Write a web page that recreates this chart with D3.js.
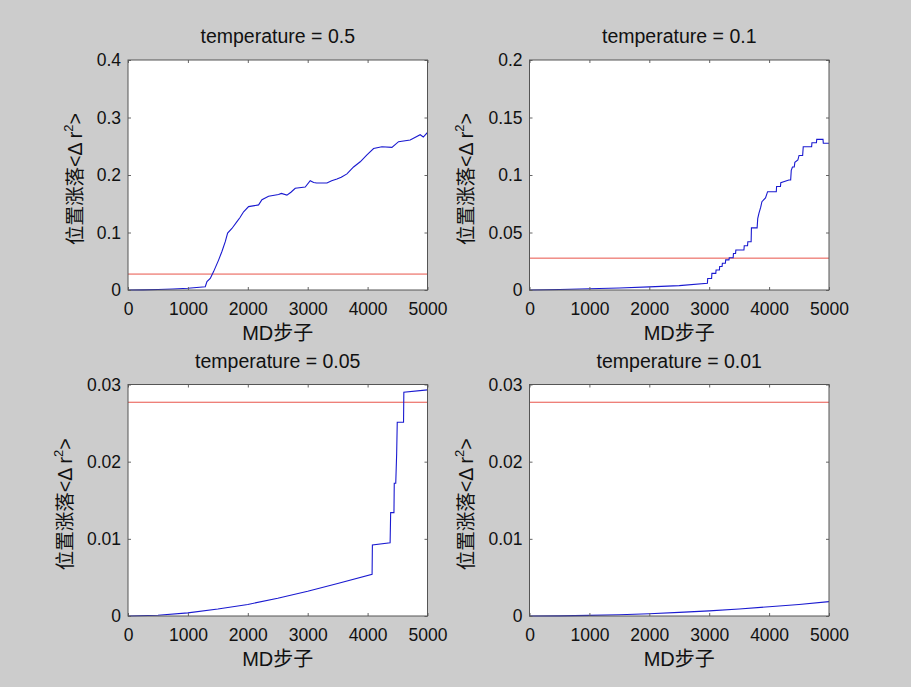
<!DOCTYPE html>
<html>
<head>
<meta charset="utf-8">
<script src="https://cdn.jsdelivr.net/npm/d3@7"></script>
<style>
  body { margin: 0; background: #cccccc; }
  svg { display: block; }
  text { font-family: "Liberation Sans", Arial, "Noto Sans CJK SC", sans-serif; fill: #111; }
</style>
</head>
<body>
<div id="chart"></div>
<script>
// panel titles and shared axis text
var titles = ["temperature = 0.5", "temperature = 0.1", "temperature = 0.05", "temperature = 0.01"];
var xLabel = "MD步子";
var xTicks = [0, 1000, 2000, 3000, 4000, 5000];
var yTicks05 = [0, 0.1, 0.2, 0.3, 0.4];
var yTicks01 = [0, 0.05, 0.1, 0.15, 0.2];
var yTicksSmall = [0, 0.01, 0.02, 0.03];

// threshold (red) line value, same in every panel
var threshold = 0.0277;

// <Δr²> vs MD step [step, value]
var msdT05 = [[0,0],[250,0.0003],[500,0.0009],[750,0.0017],[1000,0.003],[1290,0.0057],[1318,0.0145],
  [1373,0.020],[1429,0.032],[1512,0.052],[1568,0.067],[1624,0.084],[1663,0.099],[1735,0.107],
  [1819,0.119],[1870,0.126],[1930,0.136],[2013,0.145],[2180,0.148],[2236,0.157],[2347,0.163],
  [2514,0.166],[2560,0.168],[2653,0.165],[2720,0.170],[2792,0.177],[2959,0.179],[3042,0.190],
  [3100,0.187],[3149,0.186],[3321,0.186],[3400,0.190],[3488,0.193],[3560,0.196],[3655,0.202],
  [3766,0.214],[3877,0.223],[3989,0.235],[4100,0.246],[4239,0.249],[4406,0.248],[4517,0.258],
  [4711,0.261],[4878,0.270],[4930,0.266],[4990,0.273],[5000,0.272]];

var msdT01 = [[0,0],[500,0.0004],[1000,0.0011],[1500,0.0018],[2000,0.0027],[2500,0.0038],[2970,0.0058],
  [2975,0.0100],[3040,0.0100],[3045,0.0145],[3110,0.0145],[3115,0.0174],[3170,0.0174],[3175,0.0205],
  [3215,0.0205],[3220,0.0232],[3270,0.0232],[3275,0.0262],[3330,0.0262],[3335,0.0280],[3400,0.0280],
  [3405,0.0318],[3440,0.0318],[3445,0.0348],[3580,0.0348],[3585,0.0385],[3640,0.0385],[3645,0.042],
  [3700,0.042],[3705,0.054],[3800,0.054],[3810,0.062],[3830,0.0667],[3860,0.072],[3880,0.0768],
  [3940,0.080],[3975,0.0855],[4120,0.0855],[4125,0.090],[4190,0.090],[4195,0.0933],[4330,0.0957],
  [4360,0.0957],[4370,0.104],[4390,0.107],[4420,0.107],[4430,0.111],[4480,0.113],[4500,0.117],
  [4560,0.117],[4570,0.1246],[4710,0.1246],[4715,0.128],[4790,0.128],[4795,0.131],[4900,0.131],
  [4905,0.1276],[5000,0.1276]];

var msdT005 = [[0,0],[500,0.0001],[1000,0.0004],[1500,0.0009],[2000,0.0015],[2500,0.0023],[3000,0.0032],
  [3500,0.0042],[4075,0.0054],[4080,0.0092],[4376,0.0095],[4385,0.0134],[4440,0.0134],[4445,0.0172],
  [4470,0.0172],[4485,0.021],[4495,0.0251],[4600,0.0251],[4605,0.0290],[5000,0.0293]];

var msdT001 = [[0,0],[500,0.00002],[1000,0.00008],[1500,0.00017],[2000,0.0003],[2500,0.00047],
  [3000,0.00067],[3500,0.0009],[4000,0.0012],[4500,0.0015],[5000,0.00186]];

var panels = [
  {title: titles[0], data: msdT05, yMax: 0.4, yTicks: yTicks05, left: 128, top: 60, height: 230},
  {title: titles[1], data: msdT01, yMax: 0.2, yTicks: yTicks01, left: 529.5, top: 60, height: 230},
  {title: titles[2], data: msdT005, yMax: 0.03, yTicks: yTicksSmall, left: 128, top: 384.5, height: 231.5},
  {title: titles[3], data: msdT001, yMax: 0.03, yTicks: yTicksSmall, left: 529.5, top: 384.5, height: 231.5}
];

var width = 299.5;

var svg = d3.select("#chart").append("svg")
    .attr("width", 911)
    .attr("height", 687);

svg.append("rect")
    .attr("width", 911)
    .attr("height", 687)
    .attr("fill", "#cccccc");

panels.forEach(function(p){
    var g = svg.append("g")
        .attr("transform", "translate(" + p.left + "," + p.top + ")");

    var x = d3.scaleLinear().domain([0, 5000]).range([0, width]);
    var y = d3.scaleLinear().domain([0, p.yMax]).range([p.height, 0]);

    g.append("rect")
        .attr("width", width)
        .attr("height", p.height)
        .attr("fill", "#fff");

    // threshold line
    g.append("line")
        .attr("x1", x(0)).attr("x2", x(5000))
        .attr("y1", y(threshold)).attr("y2", y(threshold))
        .attr("stroke", "#e8534a")
        .attr("stroke-width", 1);

    var line = d3.line()
        .x(function(d){ return x(d[0]); })
        .y(function(d){ return y(d[1]); });

    g.append("path")
        .datum(p.data)
        .attr("d", line)
        .attr("fill", "none")
        .attr("stroke", "#1a1ad0")
        .attr("stroke-width", 1.1);

    // axes, ticks pointing inward like matlab
    var fmt = d3.format("~g");
    g.append("g")
        .attr("transform", "translate(0," + p.height + ")")
        .call(d3.axisBottom(x).tickValues(xTicks).tickSize(-3).tickSizeOuter(0).tickPadding(13).tickFormat(fmt));
    var yAxis = g.append("g")
        .call(d3.axisLeft(y).tickValues(p.yTicks).tickSize(-3).tickSizeOuter(0).tickPadding(7).tickFormat(fmt));
    g.append("g")
        .call(d3.axisTop(x).tickValues(xTicks).tickSize(-3).tickSizeOuter(0).tickFormat(""));
    g.append("g")
        .attr("transform", "translate(" + width + ",0)")
        .call(d3.axisRight(y).tickValues(p.yTicks).tickSize(-3).tickSizeOuter(0).tickFormat(""));

    g.selectAll(".domain").remove();
    g.selectAll(".tick line").attr("stroke", "#666");
    g.selectAll(".tick text")
        .style("font-size", "17.5px")
        .attr("fill", "#111");

    g.append("rect")
        .attr("width", width)
        .attr("height", p.height)
        .attr("fill", "none")
        .attr("stroke", "#555")
        .attr("stroke-width", 1);

    // title
    g.append("text")
        .attr("x", width / 2)
        .attr("y", -17)
        .attr("text-anchor", "middle")
        .style("font-size", "19.5px")
        .text(p.title);

    // x label
    g.append("text")
        .attr("x", width / 2)
        .attr("y", p.height + 50)
        .attr("text-anchor", "middle")
        .style("font-size", "20px")
        .text(xLabel);

    // y label, placed left of the widest tick label
    var maxW = d3.max(yAxis.selectAll(".tick text").nodes(), function(n){ return n.getComputedTextLength(); });
    var yl = g.append("text")
        .attr("transform", "translate(" + (-7 - maxW - 15) + "," + (p.height / 2 + 4) + ") rotate(-90)")
        .attr("text-anchor", "middle")
        .style("font-size", "19.5px");
    yl.append("tspan").text("位置涨落<Δ r");
    yl.append("tspan").attr("dy", -9).style("font-size", "13px").text("2");
    yl.append("tspan").attr("dy", 9).text(">");
});
</script>
</body>
</html>
